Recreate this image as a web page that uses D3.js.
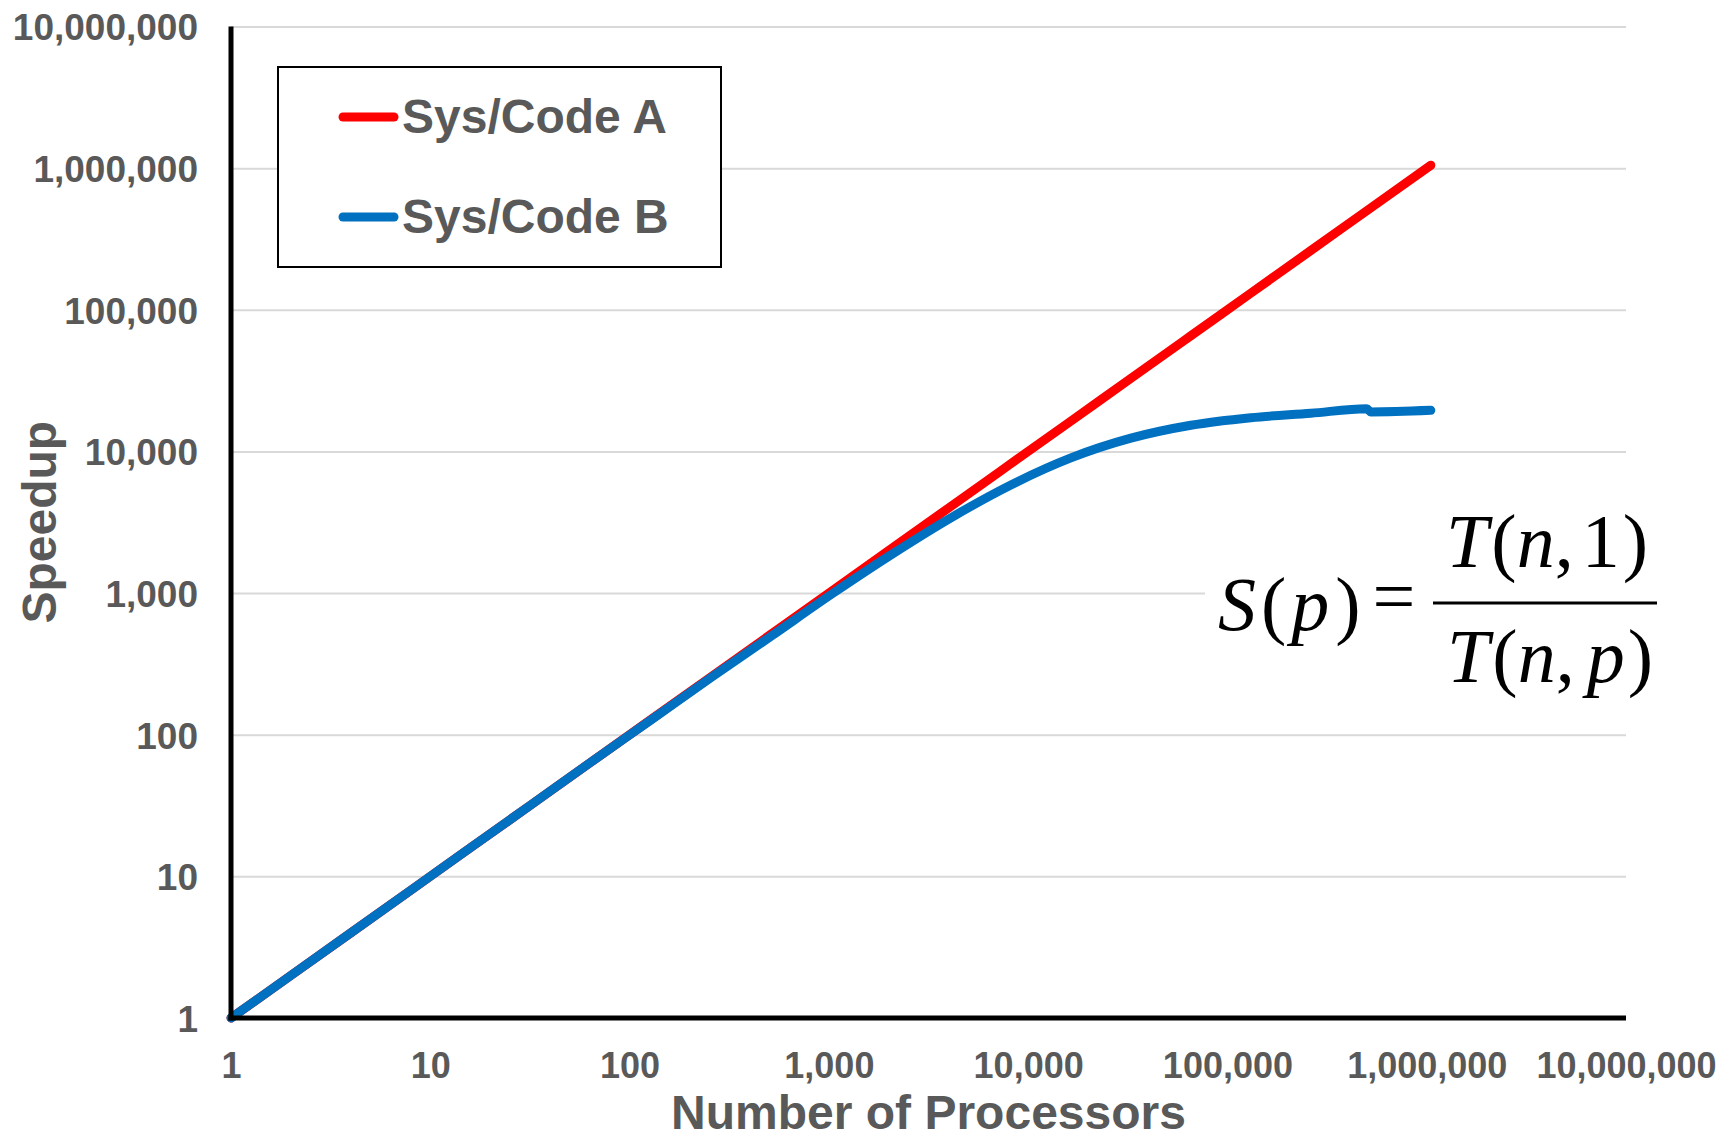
<!DOCTYPE html>
<html>
<head>
<meta charset="utf-8">
<script src="https://cdn.jsdelivr.net/npm/d3@7"></script>
<style>
  html, body { margin: 0; padding: 0; background: #fff; }
  svg { display: block; }
  text { font-family: "Liberation Sans", Arial, sans-serif; }
</style>
</head>
<body>
<svg id="chart" width="1730" height="1140"></svg>
<script>
// Processor counts (powers of two) and the speedup measured for each system
const procsA = [1, 2, 4, 8, 16, 32, 64, 128, 256, 512, 1024, 2048, 4096, 8192,
  16384, 32768, 65536, 131072, 262144, 524288, 1048576];
const speedupA = [1, 2, 4, 8, 16, 32, 64, 128, 256, 512, 1024, 2048, 4096, 8192,
  16384, 32768, 65536, 131072, 262144, 524288, 1048576];

const procsB = [1, 2, 4, 8, 16, 32, 64, 128, 256, 512, 1024, 2048, 4096, 8192,
  16384, 32768, 65536, 131072, 262144, 500000, 524288, 1048576];
const speedupB = [1, 2, 4, 8, 16, 32, 64, 127, 253, 495, 975, 1860, 3400, 5800,
  9000, 12400, 15300, 17300, 18600, 20000, 19000, 19500];

const seriesNames = ["Sys/Code A", "Sys/Code B"];
const seriesColors = ["#ff0000", "#0070c0"];

const xTicks = [1, 10, 100, 1000, 10000, 100000, 1000000, 10000000];
const yTicks = [1, 10, 100, 1000, 10000, 100000, 1000000, 10000000];

const xTitle = "Number of Processors";
const yTitle = "Speedup";

const svg = d3.select("#chart");
const plotL = 231, plotR = 1626, plotT = 26.5, plotB = 1018;
const textGrey = "#595959";

const x = d3.scaleLog().domain([1, 1e7]).range([plotL, plotR]);
const y = d3.scaleLog().domain([1, 1e7]).range([plotB, plotT]);
const fmt = d3.format(",");

// horizontal gridlines + y tick labels
const yAxis = svg.append("g")
  .attr("transform", `translate(${plotL},0)`)
  .call(d3.axisLeft(y).tickValues(yTicks).tickFormat(fmt)
    .tickSize(-(plotR - plotL)).tickPadding(33));
yAxis.select(".domain").remove();
yAxis.selectAll(".tick line").attr("stroke", "#d9d9d9").attr("stroke-width", 2);
yAxis.selectAll(".tick text")
  .attr("fill", textGrey).attr("font-size", 37).attr("font-weight", "bold")
  .attr("dy", "0.36em");

// x tick labels
const xAxis = svg.append("g")
  .attr("transform", `translate(0,${plotB})`)
  .call(d3.axisBottom(x).tickValues(xTicks).tickFormat(fmt).tickSize(0));
xAxis.select(".domain").remove();
xAxis.selectAll(".tick text")
  .attr("fill", textGrey).attr("font-size", 36).attr("font-weight", "bold")
  .attr("y", 60).attr("dy", 0);

// series lines
const line = d3.line().x(d => x(d[0])).y(d => y(d[1])).curve(d3.curveMonotoneX);
const dataA = procsA.map((p, i) => [p, speedupA[i]]);
const dataB = procsB.map((p, i) => [p, speedupB[i]]);
[dataA, dataB].forEach((data, i) => {
  svg.append("path")
    .datum(data)
    .attr("d", line)
    .attr("fill", "none")
    .attr("stroke", seriesColors[i])
    .attr("stroke-width", 9)
    .attr("stroke-linecap", "round")
    .attr("stroke-linejoin", "round");
});

// axis lines
svg.append("line").attr("x1", plotL).attr("x2", plotL).attr("y1", plotT).attr("y2", plotB + 2.5)
  .attr("stroke", "#000").attr("stroke-width", 5);
svg.append("line").attr("x1", plotL - 2.5).attr("x2", plotR).attr("y1", plotB).attr("y2", plotB)
  .attr("stroke", "#000").attr("stroke-width", 5);

// axis titles
svg.append("text")
  .attr("x", (plotL + plotR) / 2).attr("y", 1129)
  .attr("text-anchor", "middle")
  .attr("fill", textGrey).attr("font-size", 48).attr("font-weight", "bold")
  .text(xTitle);
svg.append("text")
  .attr("transform", `translate(56,${(plotT + plotB) / 2}) rotate(-90)`)
  .attr("text-anchor", "middle")
  .attr("fill", textGrey).attr("font-size", 48).attr("font-weight", "bold")
  .text(yTitle);

// legend
const legend = svg.append("g");
legend.append("rect")
  .attr("x", 278).attr("y", 67).attr("width", 443).attr("height", 200)
  .attr("fill", "#fff").attr("stroke", "#000").attr("stroke-width", 2);
seriesNames.forEach((name, i) => {
  const ly = 117 + i * 100;
  legend.append("line")
    .attr("x1", 343).attr("x2", 394).attr("y1", ly).attr("y2", ly)
    .attr("stroke", seriesColors[i]).attr("stroke-width", 9)
    .attr("stroke-linecap", "round");
  legend.append("text")
    .attr("x", 402).attr("y", ly + 16)
    .attr("fill", textGrey).attr("font-size", 48).attr("font-weight", "bold")
    .text(name);
});

// speedup definition
const eq = svg.append("g").attr("font-size", 76);
eq.append("rect").attr("x", 1205).attr("y", 505).attr("width", 490).attr("height", 210).attr("fill", "#fff");
function mathText(g, xPos, yPos, parts, anchor) {
  const t = g.append("text")
    .attr("x", xPos).attr("y", yPos)
    .attr("text-anchor", anchor)
    .style("font-family", "'Liberation Serif', 'Times New Roman', serif")
    .attr("fill", "#000");
  parts.forEach(p => {
    const s = t.append("tspan").text(p[0]);
    if (p[1]) s.attr("font-style", "italic");
    if (p[2]) s.attr("dx", p[2]);
  });
  return t;
}
mathText(eq, 1218, 630, [["S", true], ["(", false, 5], ["p", true, 5], [")", false, 6]], "start");
mathText(eq, 1394, 622, [["=", false]], "middle");
mathText(eq, 1547, 567, [["T", true], ["(", false, 3], ["n", true], [",", false], ["1", false, 8], [")", false, 3]], "middle");
mathText(eq, 1550, 682, [["T", true], ["(", false, 3], ["n", true], [",", false], ["p", true, 12], [")", false, 3]], "middle");
eq.append("line").attr("x1", 1433).attr("x2", 1657).attr("y1", 603).attr("y2", 603)
  .attr("stroke", "#000").attr("stroke-width", 3);
</script>
</body>
</html>
